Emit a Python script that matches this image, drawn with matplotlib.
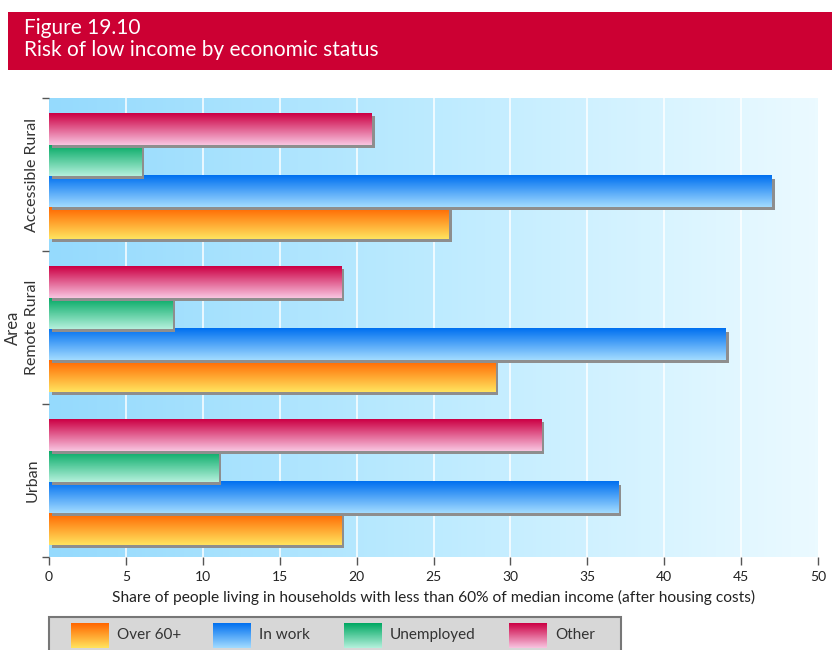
import matplotlib
matplotlib.use('Agg')
import matplotlib.pyplot as plt
import matplotlib.patches as patches
import matplotlib.patheffects as pe
from matplotlib.colors import LinearSegmentedColormap
import numpy as np

# --- data ---
areas = ['Accessible Rural', 'Remote Rural', 'Urban']
series = ['Over 60+', 'In work', 'Unemployed', 'Other']
over60 = [26, 29, 19]
in_work = [47, 44, 37]
unemployed = [6, 8, 11]
other = [21, 19, 32]
x_ticks = [0, 5, 10, 15, 20, 25, 30, 35, 40, 45, 50]

# gradient colours (top -> bottom of each bar)
GRADS = [('#FF6600', '#FFE35E'),
         ('#0070F0', '#A2DBFF'),
         ('#00A862', '#B4F0DC'),
         ('#CC0044', '#F8C4E0')]
plt.rcParams['font.family'] = ['Lato', 'DejaVu Sans']

W, H = 832, 650
fig = plt.figure(figsize=(W / 100, H / 100), dpi=100, facecolor='white')

# --- title banner ---
fig.patches.append(patches.Rectangle((8 / W, 1 - 70 / H), 824 / W, 58 / H,
                                     transform=fig.transFigure, facecolor='#CC0033',
                                     edgecolor='none', zorder=0))
fig.text(24 / W, 1 - 28 / H, 'Figure 19.10', color='white', fontsize=15, va='center')
fig.text(24 / W, 1 - 50 / H, 'Risk of low income by economic status', color='white',
         fontsize=15, va='center')

# --- main axes ---
ax = fig.add_axes([49 / W, 1 - 557 / H, 769 / W, 459 / H])
ymin, ymax = -0.5, len(areas) - 0.5
bg = np.linspace(0, 1, 256).reshape(1, -1)
bg_cmap = LinearSegmentedColormap.from_list('bg', ['#95DAFD', '#BDEBFF', '#EBFAFF'])
ax.imshow(bg, extent=[0, 50, ymin, ymax], aspect='auto', cmap=bg_cmap, zorder=0)
for xv in x_ticks[1:-1]:
    ax.axvline(xv, color='white', lw=1.2, alpha=0.9, zorder=1)

ypos = np.arange(len(areas))[::-1]
h = 0.205
values = [over60, in_work, unemployed, other]
grad = np.linspace(0, 1, 64).reshape(-1, 1)
for i, (name, vals, (c_top, c_bot)) in enumerate(zip(series, values, GRADS)):
    off = (i - 1.5) * h - 0.01
    z = 2 + i
    bars = ax.barh(ypos + off, vals, height=h, color=c_top, zorder=z,
                   path_effects=[pe.SimplePatchShadow(offset=(2.2, -2.2), shadow_rgbFace='#8E8E8E', alpha=1),
                                 pe.Normal()])
    cmap = LinearSegmentedColormap.from_list(name, [c_top, c_bot])
    for b in bars:
        x0, y0 = b.get_x(), b.get_y()
        ax.imshow(grad, extent=[x0, x0 + b.get_width(), y0, y0 + b.get_height()],
                  aspect='auto', cmap=cmap, origin='upper', zorder=z + 0.5)

ax.set_xlim(0, 50)
ax.set_ylim(ymin, ymax)
for s in ax.spines.values():
    s.set_visible(False)
ax.set_xticks(x_ticks)
ax.tick_params(axis='x', length=6, width=1, color='#555555', labelsize=10, pad=4,
               labelcolor='#222222')
ax.set_yticks(np.arange(len(areas) + 1) - 0.5)
ax.set_yticklabels([])
ax.set_yticks(ypos, labels=areas, minor=True)
ax.tick_params(axis='y', which='major', length=5, width=1, color='#555555', pad=3)
ax.tick_params(axis='y', which='minor', length=0, pad=7, labelsize=11.5, labelcolor='#333333')
for lab in ax.get_yticklabels(minor=True):
    lab.set_rotation(90)
    lab.set_va('center')
ax.set_ylabel('Area', fontsize=12, color='#333333', labelpad=3)
ax.set_xlabel('Share of people living in households with less than 60% of median income (after housing costs)',
              fontsize=11.2, color='#222222', labelpad=5)

# --- legend strip ---
lax = fig.add_axes([49 / W, 0, 572 / W, 33 / H])
lax.set_xlim(0, 572)
lax.set_ylim(0, 33)
lax.axis('off')
lax.add_patch(patches.Rectangle((0, -2), 572, 35, facecolor='#D7D7D7', edgecolor='#777777',
                                lw=1.5, clip_on=False))
leg_x = [22, 164, 295, 460]
for name, lx, (c_top, c_bot) in zip(series, leg_x, GRADS):
    cmap = LinearSegmentedColormap.from_list(name, [c_top, c_bot])
    lax.imshow(grad, extent=[lx, lx + 38, 2, 27], aspect='auto', cmap=cmap, origin='upper', zorder=3)
    lax.text(lx + 46, 15, name, va='center', fontsize=11, color='#333333')

fig.savefig('out.png', dpi=100)
